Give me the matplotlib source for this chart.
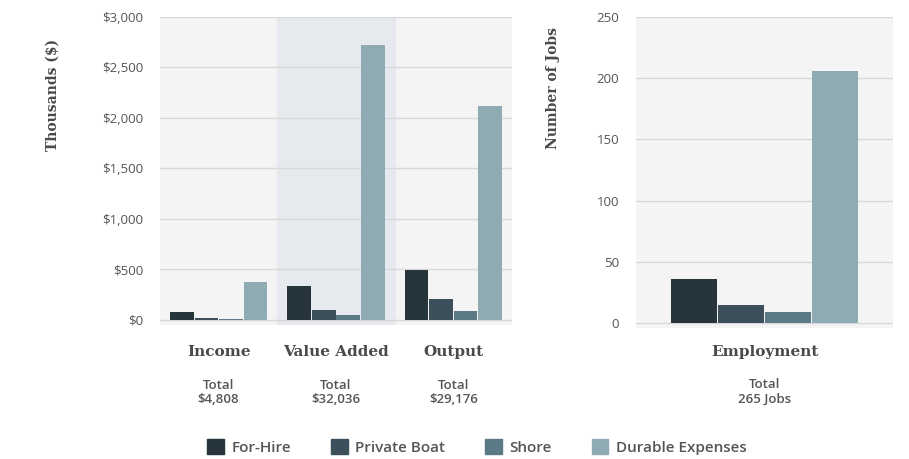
import numpy as np
import matplotlib
matplotlib.use("Agg")
from matplotlib import pyplot as plt
from matplotlib.patches import Patch

# data
econ_cats = ["Income", "Value Added", "Output"]
econ_totals = ["Total\n$4,808", "Total\n$32,036", "Total\n$29,176"]
series = ["For-Hire", "Private Boat", "Shore", "Durable Expenses"]
for_hire = [80, 340, 490]
private_boat = [20, 95, 210]
shore = [10, 50, 90]
durable = [375, 2720, 2120]

jobs_cat = ["Employment"]
jobs_total = ["Total\n265 Jobs"]
jobs = [36, 15, 9, 206]

colors = ["#26343b", "#3c4f5a", "#5b7a85", "#8eabb3"]
serif = "DejaVu Serif"
sans = "Open Sans"
txt = "#4a4a4a"

fig = plt.figure(figsize=(9.09, 4.59), dpi=100)
ax1 = fig.add_axes([160/909, 1-325/459, 352/909, 308/459])
ax2 = fig.add_axes([636/909, 1-328/459, 257/909, 311/459])

for ax in (ax1, ax2):
    ax.set_facecolor("#f4f4f4")
    for s in ax.spines.values():
        s.set_visible(False)
    ax.tick_params(length=0, labelsize=9.5, labelcolor="#555555", pad=12)
    ax.grid(axis="y", color="#d8d8d8", lw=1)
    ax.set_axisbelow(True)

# left chart
x = np.arange(len(econ_cats))
w = 0.21
vals = [for_hire, private_boat, shore, durable]
ax1.axvspan(0.5, 1.5, color="#e6e9ee", zorder=0)
for i, v in enumerate(vals):
    ax1.bar(x + (i - 1.5) * w, v, w * 0.96, color=colors[i], zorder=3)
ax1.set_xlim(-0.5, 2.5)
ax1.set_ylim(-50, 3000)
ax1.set_yticks(range(0, 3001, 500))
ax1.set_yticklabels(["$0", "$500", "$1,000", "$1,500", "$2,000", "$2,500", "$3,000"],
                    fontfamily=sans)
ax1.set_xticks(x)
ax1.set_xticklabels([])
for xi, c, t in zip(x, econ_cats, econ_totals):
    ax1.text(xi, -0.088, c, transform=ax1.get_xaxis_transform(), ha="center", va="center",
             fontfamily=serif, fontweight="bold", fontsize=11, color=txt)
    ax1.text(xi, -0.219, t, transform=ax1.get_xaxis_transform(), ha="center", va="center",
             fontfamily=sans, fontsize=9.5, fontweight="semibold", color="#555555",
             linespacing=1.15)
fig.text(53/909, 1-95/459, "Thousands ($)", rotation=90, ha="center", va="center",
         fontfamily=serif, fontweight="bold", fontsize=10, color=txt)

# right chart
w2 = 0.187
for i, v in enumerate(jobs):
    ax2.bar(0 + (i - 1.5) * w2, v, w2 * 0.97, color=colors[i], zorder=3)
ax2.set_xlim(-0.51, 0.51)
ax2.set_ylim(-4, 250)
ax2.set_yticks(range(0, 251, 50))
ax2.set_yticklabels([str(t) for t in range(0, 251, 50)], fontfamily=sans)
ax2.set_xticks([])
ax2.text(0, -0.077, jobs_cat[0], transform=ax2.get_xaxis_transform(), ha="center", va="center",
         fontfamily=serif, fontweight="bold", fontsize=11, color=txt)
ax2.text(0, -0.206, jobs_total[0], transform=ax2.get_xaxis_transform(), ha="center",
         va="center", fontfamily=sans, fontsize=9.5, fontweight="semibold", color="#555555",
         linespacing=1.15)
fig.text(553/909, 1-88/459, "Number of Jobs", rotation=90, ha="center", va="center",
         fontfamily=serif, fontweight="bold", fontsize=10, color=txt)

handles = [Patch(color=c) for c in colors]
fig.legend(handles, series, loc="center", bbox_to_anchor=(477/909, 1-447/459), ncol=4,
           frameon=False, handlelength=1.1, handleheight=1.1, columnspacing=2.6,
           handletextpad=0.5, prop={"family": sans, "size": 11, "weight": "semibold"},
           labelcolor="#555555")

fig.savefig("out.png", dpi=100)
